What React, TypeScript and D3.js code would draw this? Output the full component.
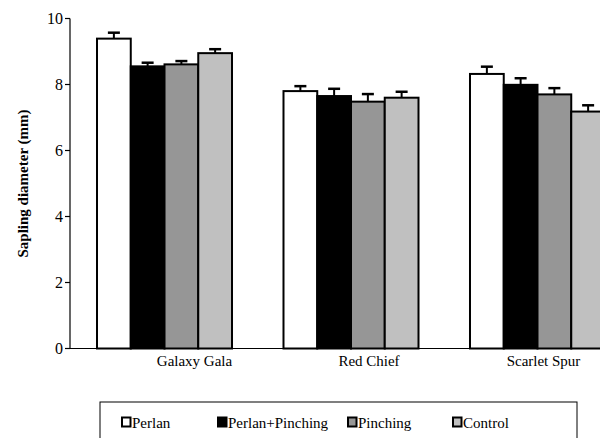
import * as d3 from 'd3';

const categories = ['Galaxy Gala', 'Red Chief', 'Scarlet Spur'];
const seriesNames = ['Perlan', 'Perlan+Pinching', 'Pinching', 'Control'];
const perlan = [9.39, 7.8, 8.32];
const perlanPinching = [8.55, 7.65, 7.99];
const pinching = [8.61, 7.48, 7.7];
const control = [8.95, 7.6, 7.18];
const perlanErr = [0.18, 0.15, 0.22];
const perlanPinchingErr = [0.11, 0.22, 0.2];
const pinchingErr = [0.1, 0.23, 0.19];
const controlErr = [0.12, 0.18, 0.19];
const yTicks = [0, 2, 4, 6, 8, 10];
const colors = ['#ffffff', '#000000', '#969696', '#c0c0c0'];

const values = [perlan, perlanPinching, pinching, control];
const errors = [perlanErr, perlanPinchingErr, pinchingErr, controlErr];

const font = 'Liberation Serif, DejaVu Serif, Times New Roman, serif';

export default function App() {
  const width = 600;
  const height = 438;
  const axisX = 70;

  const y = d3.scaleLinear().domain([0, 10]).range([348.5, 18.5]);
  const x = d3
    .scaleBand()
    .domain(categories)
    .range([axisX, 632])
    .paddingInner(0.2761)
    .paddingOuter(0.1448);
  const xs = d3.scaleBand().domain(seriesNames).range([0, x.bandwidth()]);
  // category labels sit a bit right of the groups, as in the original
  const xLabel = d3.scalePoint().domain(categories).range([194.5, 543.5]);

  // legend item left edges
  const legendPos = [122, 218, 348, 453];

  return (
    <svg
      width={width}
      height={height}
      style={{ position: 'absolute', left: 0, top: 0, display: 'block' }}
    >
      <rect width={width} height={height} fill="#fff" />

      {/* bars */}
      {categories.map((c, ci) => (
        <g key={c} transform={`translate(${x(c)},0)`}>
          {seriesNames.map((s, si) => {
            const v = values[si][ci];
            const e = errors[si][ci];
            const bx = xs(s)!;
            const cx = bx + xs.bandwidth() / 2;
            return (
              <g key={s}>
                <line x1={cx} x2={cx} y1={y(v)} y2={y(v + e)} stroke="#000" strokeWidth={2} />
                <line x1={cx - 6} x2={cx + 6} y1={y(v + e)} y2={y(v + e)} stroke="#000" strokeWidth={2.5} />
                <rect
                  x={bx}
                  y={y(v)}
                  width={xs.bandwidth()}
                  height={y(0) - y(v)}
                  fill={colors[si]}
                  stroke="#000"
                  strokeWidth={2}
                />
              </g>
            );
          })}
        </g>
      ))}

      {/* axes */}
      <line x1={axisX} x2={axisX} y1={y(10)} y2={y(0)} stroke="#000" strokeWidth={1.2} />
      <line x1={axisX - 5} x2={width} y1={y(0)} y2={y(0)} stroke="#000" strokeWidth={1.2} />
      {yTicks.map((t) => (
        <g key={t}>
          <line x1={axisX - 5} x2={axisX} y1={y(t)} y2={y(t)} stroke="#000" strokeWidth={1.2} />
          <text x={63} y={y(t)} dy="0.35em" textAnchor="end" fontSize={16} fontFamily={font}>
            {t}
          </text>
        </g>
      ))}
      <text
        transform={`translate(28,${(y(0) + y(10)) / 2}) rotate(-90)`}
        textAnchor="middle"
        fontSize={15}
        fontWeight="bold"
        fontFamily={font}
      >
        Sapling diameter (mm)
      </text>

      {/* category labels */}
      {categories.map((c) => (
        <text key={c} x={xLabel(c)} y={366} textAnchor="middle" fontSize={15} fontFamily={font}>
          {c}
        </text>
      ))}

      {/* legend */}
      <rect x={100} y={402} width={477} height={40} fill="none" stroke="#000" strokeWidth={1} />
      {seriesNames.map((s, i) => (
        <g key={s} transform={`translate(${legendPos[i]},0)`}>
          <rect x={0} y={417.5} width={8.5} height={9} fill={colors[i]} stroke="#000" strokeWidth={2} />
          <text x={10} y={428} fontSize={15} fontFamily={font}>
            {s}
          </text>
        </g>
      ))}
    </svg>
  );
}
